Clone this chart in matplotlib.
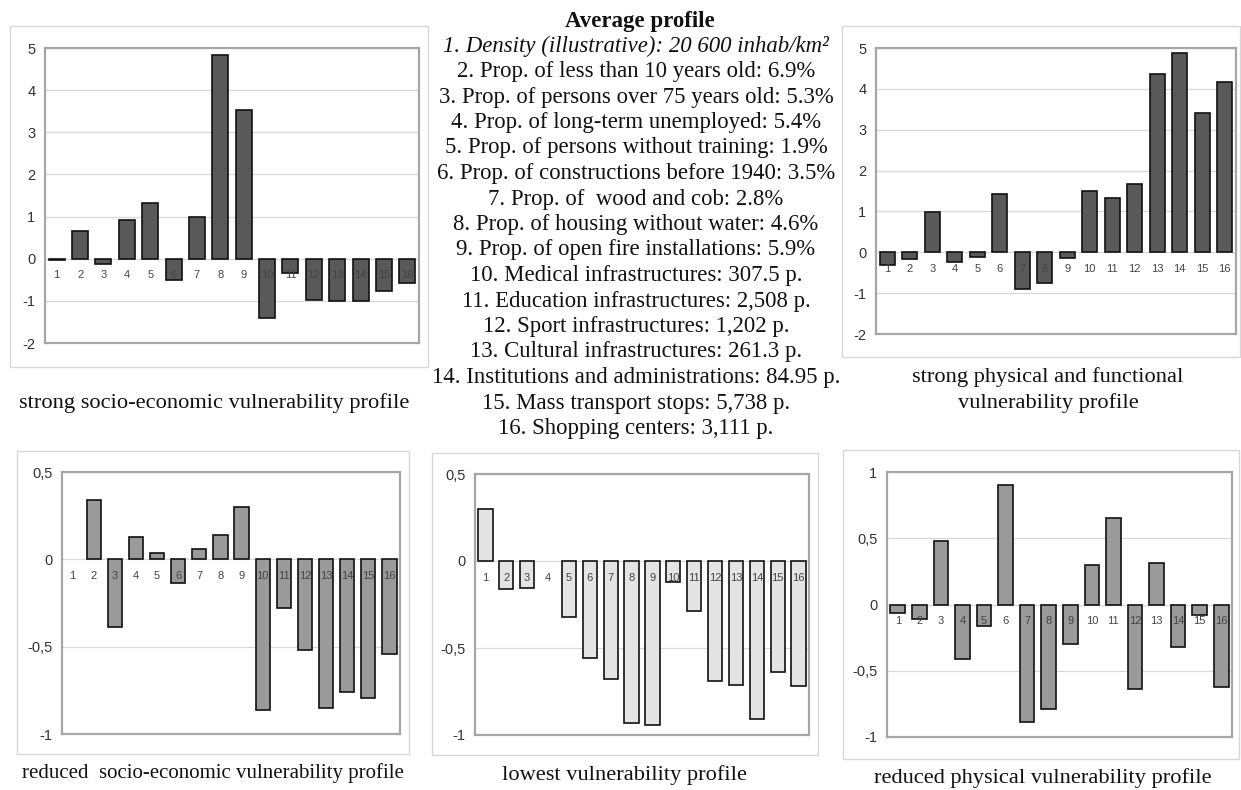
import matplotlib
matplotlib.use("Agg")
import matplotlib.pyplot as plt
from matplotlib.patches import Rectangle

# indicator numbers shown under each bar
categories = [str(i) for i in range(1, 17)]

# bar heights, one list per profile
strong_socio = [-0.03, 0.66, -0.12, 0.92, 1.33, -0.50, 0.99, 4.83,
                3.52, -1.40, -0.33, -0.97, -1.00, -1.00, -0.77, -0.57]
strong_physical = [-0.30, -0.16, 0.99, -0.24, -0.11, 1.42, -0.90, -0.75,
                   -0.15, 1.49, 1.32, 1.68, 4.36, 4.88, 3.41, 4.16]
reduced_socio = [0.0, 0.34, -0.39, 0.13, 0.036, -0.135, 0.06, 0.14,
                 0.30, -0.86, -0.28, -0.52, -0.85, -0.76, -0.795, -0.54]
lowest = [0.30, -0.16, -0.155, 0.0, -0.32, -0.56, -0.68, -0.93,
          -0.94, -0.12, -0.29, -0.69, -0.71, -0.91, -0.64, -0.72]
reduced_physical = [-0.066, -0.11, 0.48, -0.41, -0.16, 0.90, -0.89, -0.79,
                    -0.30, 0.295, 0.65, -0.64, 0.315, -0.32, -0.08, -0.62]

# y ticks and their labels (comma decimals as in the source)
ticks_big = [-2, -1, 0, 1, 2, 3, 4, 5]
ticks_big_lbl = ["-2", "-1", "0", "1", "2", "3", "4", "5"]
ticks_small = [-1, -0.5, 0, 0.5]
ticks_small_lbl = ["-1", "-0,5", "0", "0,5"]
ticks_phys = [-1, -0.5, 0, 0.5, 1]
ticks_phys_lbl = ["-1", "-0,5", "0", "0,5", "1"]

captions = [
    "strong socio-economic vulnerability profile",
    "strong physical and functional\nvulnerability profile",
    "reduced  socio-economic vulnerability profile",
    "lowest vulnerability profile",
    "reduced physical vulnerability profile",
]

avg_title = "Average profile"
avg_lines = [
    "1. Density (illustrative): 20 600 inhab/km\u00b2",
    "2. Prop. of less than 10 years old: 6.9%",
    "3. Prop. of persons over 75 years old: 5.3%",
    "4. Prop. of long-term unemployed: 5.4%",
    "5. Prop. of persons without training: 1.9%",
    "6. Prop. of constructions before 1940: 3.5%",
    "7. Prop. of  wood and cob: 2.8%",
    "8. Prop. of housing without water: 4.6%",
    "9. Prop. of open fire installations: 5.9%",
    "10. Medical infrastructures: 307.5 p.",
    "11. Education infrastructures: 2,508 p.",
    "12. Sport infrastructures: 1,202 p.",
    "13. Cultural infrastructures: 261.3 p.",
    "14. Institutions and administrations: 84.95 p.",
    "15. Mass transport stops: 5,738 p.",
    "16. Shopping centers: 3,111 p.",
]

W, H = 1241, 790
SERIF = ["Liberation Serif", "DejaVu Serif"]
SANS = ["Liberation Sans", "DejaVu Sans"]

fig = plt.figure(figsize=(W / 100, H / 100), dpi=100)
fig.patch.set_facecolor("white")


def px_box(x0, y0, x1, y1):
    # pixel box (top-left origin) -> figure fraction [l, b, w, h]
    return [x0 / W, 1 - y1 / H, (x1 - x0) / W, (y1 - y0) / H]


def frame(x0, y0, x1, y1):
    l, b, w, h = px_box(x0, y0, x1, y1)
    fig.patches.append(Rectangle((l, b), w, h, transform=fig.transFigure,
                                 fill=False, edgecolor="#d8d8d8", lw=1.0))


def panel(box, values, color, ticks, tick_lbls, ylim):
    ax = fig.add_axes(px_box(*box))
    x = range(len(values))
    # no outline for empty bars
    edges = ["none" if v == 0 else "#111111" for v in values]
    ax.bar(x, values, width=0.68, color=color, edgecolor=edges,
           linewidth=1.2, zorder=3)
    ax.set_xlim(-0.5, len(values) - 0.5)
    ax.set_ylim(*ylim)
    ax.set_yticks(ticks)
    ax.set_yticklabels(tick_lbls, fontfamily=SANS, fontsize=10.5, color="#333333")
    ax.tick_params(axis="y", length=0, pad=7)
    ax.set_xticks([])
    ax.grid(axis="y", color="#d9d9d9", lw=0.9, zorder=0)
    for s in ax.spines.values():
        s.set_color("#a6a6a6")
        s.set_linewidth(1.6)
    for i, c in enumerate(categories):
        ax.annotate(c, (i, 0), xytext=(0, -12), textcoords="offset points",
                    ha="center", va="center", fontsize=8, fontfamily=SANS,
                    color="#444444", zorder=4)
    return ax


# outer chart-area frames
frame(10, 26, 428, 367)
frame(842, 26, 1240, 357)
frame(17, 451, 409, 754)
frame(432, 453, 818, 755)
frame(843, 450, 1239, 759)

panel((45, 48, 419, 343), strong_socio, "#595959", ticks_big, ticks_big_lbl, (-2, 5))
panel((876, 48, 1236, 334), strong_physical, "#595959", ticks_big, ticks_big_lbl, (-2, 5))
panel((62, 472, 400, 734), reduced_socio, "#9a9a9a", ticks_small, ticks_small_lbl, (-1, 0.5))
panel((475, 474, 809, 735), lowest, "#e4e4e4", ticks_small, ticks_small_lbl, (-1, 0.5))
panel((887, 472, 1232, 737), reduced_physical, "#9a9a9a", ticks_phys, ticks_phys_lbl, (-1, 1))

# captions under each chart
cap_pos = [(214, 403), (1048, 390), (213, 773), (625, 775), (1043, 778)]
cap_size = [16.1, 16.1, 15.0, 16.1, 16.1]
for (cx, cy), txt, fs in zip(cap_pos, captions, cap_size):
    fig.text(cx / W, 1 - cy / H, txt, ha="center", va="center",
             fontfamily=SERIF, fontsize=fs, linespacing=1.4, color="#111111")

# average profile text block
fig.text(640 / W, 1 - 21 / H, avg_title, ha="center", va="center",
         fontfamily=SERIF, fontsize=16.5, fontweight="bold", color="#111111")
for i, line in enumerate(avg_lines):
    y = 46 + i * 25.5
    fig.text(636 / W, 1 - y / H, line, ha="center", va="center",
             fontfamily=SERIF, fontsize=16.4, color="#111111",
             style="italic" if i == 0 else "normal")

fig.savefig("out.png", dpi=100)
